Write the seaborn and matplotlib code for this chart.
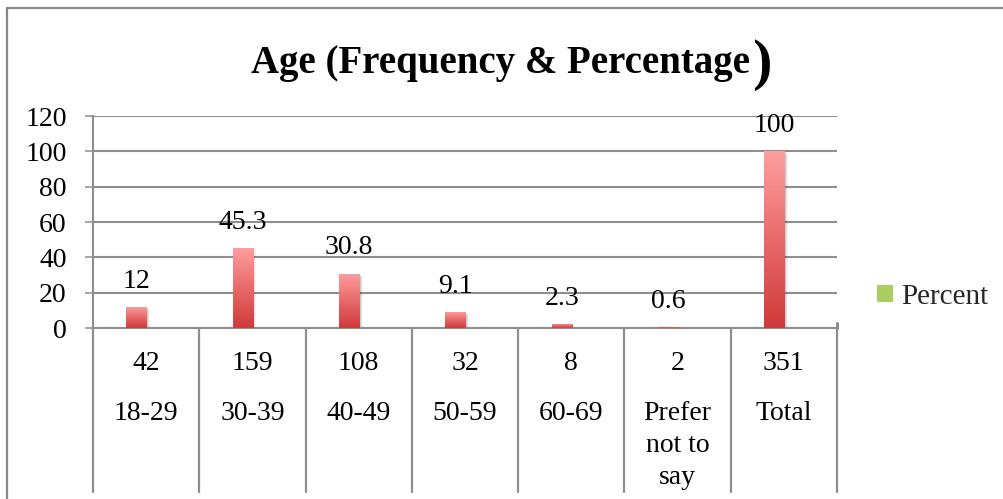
import numpy as np
import pandas as pd
import matplotlib
matplotlib.use("Agg")
import matplotlib.pyplot as plt
import matplotlib.transforms as mtransforms
from matplotlib.colors import LinearSegmentedColormap
from matplotlib.patches import Patch, Rectangle
from matplotlib.lines import Line2D
import seaborn as sns

# ---- data -------------------------------------------------------------
age_groups = ["18-29", "30-39", "40-49", "50-59", "60-69", "Prefer\nnot to\nsay", "Total"]
frequency = [42, 159, 108, 32, 8, 2, 351]
percent = [12, 45.3, 30.8, 9.1, 2.3, 0.6, 100]
y_ticks = [0, 20, 40, 60, 80, 100, 120]
series_name = "Percent"
title_text = "Age (Frequency & Percentage"

df = pd.DataFrame({"group": age_groups, "percent": percent})

# ---- style ------------------------------------------------------------
sns.set_theme(style="white")
plt.rcParams["font.family"] = ["Liberation Serif", "DejaVu Serif"]
GRID = "#8e8e8e"
FS = 20

W, H = 1004, 499
fig = plt.figure(figsize=(W / 100, H / 100), dpi=100)
fig.patch.set_facecolor("white")

def fx(px):
    return px / W

def fy(py):
    return 1 - py / H

ax_left, ax_right, ax_top, ax_bottom = 93, 837, 116, 328
ax = fig.add_axes([fx(ax_left), fy(ax_bottom), (ax_right - ax_left) / W, (ax_bottom - ax_top) / H])

bar_w = 0.19
bar_shift = -0.09
sns.barplot(data=df, x="group", y="percent", ax=ax, width=bar_w,
            color="#d84848", saturation=1, errorbar=None, zorder=3)

# gradient fill for each bar, light on top and deep red at the base
grad_cmap = LinearSegmentedColormap.from_list("bar_grad", ["#cf3a3a", "#e86a6a", "#ff9f9f"])
gradient = np.linspace(0, 1, 256).reshape(-1, 1)
for patch in ax.patches:
    x0 = patch.get_x() + bar_shift
    patch.set_x(x0)
    w = patch.get_width()
    h = patch.get_height()
    patch.set_facecolor("none")
    patch.set_edgecolor("none")
    # soft drop shadow
    for k, a in enumerate([0.10, 0.07, 0.04]):
        off = mtransforms.ScaledTranslation((1.5 + k) / 100, -(1.0 + k) / 100, fig.dpi_scale_trans)
        sh = Rectangle((x0, 0), w, h, transform=ax.transData + off,
                       facecolor="black", alpha=a, edgecolor="none", zorder=2)
        ax.add_patch(sh)
    im = ax.imshow(gradient, extent=[x0, x0 + w, 0, h], origin="lower",
                   cmap=grad_cmap, aspect="auto", zorder=3, interpolation="bicubic")
    im.set_clip_path(patch)

# value labels above bars
for i, v in enumerate(percent):
    ax.annotate(f"{v:g}", xy=(i + bar_shift, v), xytext=(0, 18.5),
                textcoords="offset points", ha="center", va="center",
                fontsize=FS, color="black", zorder=5)

# ---- axes -------------------------------------------------------------
ax.set_xlim(-0.5, len(age_groups) - 0.5)
ax.set_ylim(0, 120)
ax.set_yticks(y_ticks)
ax.set_yticklabels([str(t) for t in y_ticks])
ax.set_xticks([])
ax.set_xlabel("")
ax.set_ylabel("")
ax.set_axisbelow(True)
ax.yaxis.grid(True, color=GRID, linewidth=1.5)
ax.xaxis.grid(False)
ax.set_facecolor("none")
for side in ["top", "right"]:
    ax.spines[side].set_visible(False)
for side in ["left", "bottom"]:
    ax.spines[side].set_color(GRID)
    ax.spines[side].set_linewidth(1.5)
ax.tick_params(axis="y", which="major", left=True, length=6, width=1.1,
               color=GRID, pad=13, labelsize=FS, labelcolor="black")

# category dividers that run through the label rows
blend = mtransforms.blended_transform_factory(ax.transData, ax.transAxes)
axes_h = ax_bottom - ax_top

def ay(py):
    return (ax_bottom - py) / axes_h

for b in np.arange(-0.5, len(age_groups)):
    ax.add_line(Line2D([b, b], [0, ay(492)], transform=blend, clip_on=False,
                       color=GRID, linewidth=1.6, zorder=4))
ax.add_line(Line2D([len(age_groups) - 0.5] * 2, [0, ay(323)], transform=blend,
                   clip_on=False, color=GRID, linewidth=2.2, zorder=4))

# two-row category labels: frequency above, age group below
for i, (n, lab) in enumerate(zip(frequency, age_groups)):
    ax.text(i, ay(363), str(n), transform=blend, ha="center", va="center",
            fontsize=FS, color="black")
    for j, line in enumerate(lab.split("\n")):
        ax.text(i, ay(413 + 32.5 * j), line, transform=blend, ha="center",
                va="center", fontsize=FS, color="black")

# ---- legend -----------------------------------------------------------
handle = Patch(facecolor="#a8cf60", edgecolor="none")
fig.legend([handle], [series_name], loc="center left",
           bbox_to_anchor=(fx(877), fy(297)), frameon=False, fontsize=FS + 1,
           handlelength=0.54, handleheight=0.54, handletextpad=0.3,
           borderpad=0, borderaxespad=0)

# ---- title ------------------------------------------------------------
t = fig.text(fx(251), fy(73), title_text, ha="left", va="baseline",
             fontsize=28, fontweight="bold", color="black")
fig.canvas.draw()
bb = t.get_window_extent(renderer=fig.canvas.get_renderer())
fig.text(bb.x1 / W + fx(2), fy(65), ")", ha="left", va="center",
         fontsize=42, fontweight="bold", color="black")

# ---- outer frame ------------------------------------------------------
fig.add_artist(Line2D([fx(7), fx(7)], [0, fy(7.5)], transform=fig.transFigure,
                      color="#888888", linewidth=1.6))
fig.add_artist(Line2D([fx(7), 1], [fy(7.5), fy(7.5)], transform=fig.transFigure,
                      color="#888888", linewidth=1.6))

fig.savefig("out.png", dpi=100, facecolor="white")
